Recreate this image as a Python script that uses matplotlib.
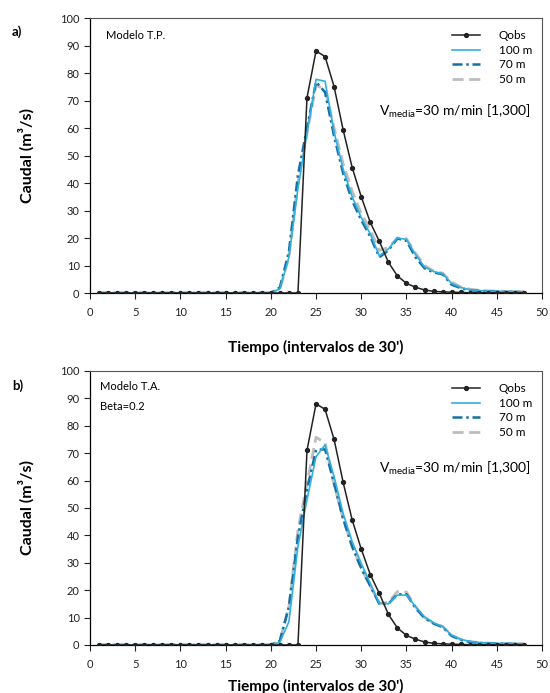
import matplotlib
matplotlib.use('Agg')
import matplotlib.pyplot as plt
from matplotlib.ticker import MultipleLocator

plt.rcParams['font.family'] = ['Lato', 'DejaVu Sans']
plt.rcParams['mathtext.fontset'] = 'custom'
plt.rcParams['mathtext.rm'] = 'Lato'

t = list(range(1, 49))
zeros20 = [0] * 20

q_obs = [0] * 23 + [71, 88, 86, 75, 59.3, 45.6, 35, 25.7, 18.8, 11.2, 6.2, 3.5,
                    2.1, 1.1, 0.6, 0.4, 0.3, 0.2, 0.1, 0.1, 0.1, 0.1, 0.1, 0.1, 0.1]

# a) Modelo T.P.
tp_100 = zeros20 + [1.5, 13, 38, 58, 77.7, 77, 58.5, 45, 35, 27.5, 21.5, 13.5, 16, 20,
                    19.5, 14, 9.5, 7.8, 7, 3.5, 2, 1.2, 0.9, 0.7, 0.6, 0.5, 0.5, 0.4]
tp_70 = zeros20 + [2, 15, 43, 60, 76.8, 73, 57, 43.5, 33.5, 26.5, 20.5, 13, 15.5, 19.8,
                   19, 13, 9, 7.5, 6.8, 3, 1.8, 1, 0.8, 0.6, 0.5, 0.4, 0.4, 0.3]
tp_50 = zeros20 + [1.5, 13, 40, 58, 75.6, 74, 60, 47, 37, 29, 23, 15.5, 16.5, 20,
                   19.8, 14.5, 10, 8, 7.2, 4, 2.2, 1.4, 1, 0.8, 0.7, 0.6, 0.5, 0.5]

# b) Modelo T.A.
ta_100 = zeros20 + [1, 8.5, 36, 53, 68.7, 73, 61.4, 48, 37.7, 29.8, 22.5, 15.2, 15, 18.2,
                    18.2, 14, 10.3, 8.1, 6.7, 3.6, 2.1, 1.3, 0.9, 0.7, 0.6, 0.5, 0.5, 0.4]
ta_70 = zeros20 + [1.5, 14, 39.5, 56.6, 71.2, 71.4, 59, 46, 35.9, 28, 21.5, 15, 15, 18.5,
                   18.5, 13.5, 9.8, 7.8, 6.5, 3.3, 1.9, 1.1, 0.8, 0.6, 0.5, 0.4, 0.4, 0.3]
ta_50 = zeros20 + [1.5, 14, 42, 59, 75.8, 73.8, 58.4, 46, 35.9, 28, 21.5, 15.2, 15.5, 19.5,
                   19.3, 14, 10, 8, 6.8, 3.5, 2, 1.2, 0.9, 0.7, 0.6, 0.5, 0.5, 0.4]

c100 = '#2fb0e0'
c70 = '#1570a3'
c50 = '#bdbdbd'

fig = plt.figure(figsize=(5.5, 6.93), dpi=100)
ax1 = fig.add_axes([0.1636, 0.5772, 0.822, 0.3968])
ax2 = fig.add_axes([0.1636, 0.0693, 0.822, 0.3954])


def draw(ax, s100, s70, s50, notes, vy, xlab_y):
    l50, = ax.plot(t, s50, color=c50, lw=2, ls=(0, (4, 2)), zorder=2)
    l70, = ax.plot(t, s70, color=c70, lw=1.8, ls=(0, (4, 1.5, 1, 1.5)), zorder=3)
    l100, = ax.plot(t, s100, color=c100, lw=1.2, zorder=4)
    lob, = ax.plot(t, q_obs, color='#222222', lw=1.1, marker='o', ms=2.8, zorder=5)
    ax.set_xlim(0, 50)
    ax.set_ylim(0, 100)
    ax.xaxis.set_major_locator(MultipleLocator(5))
    ax.yaxis.set_major_locator(MultipleLocator(10))
    ax.tick_params(direction='out', length=4, width=0.8, labelsize=8, colors='#222222')
    ax.tick_params(axis='x', pad=6)
    for s in ['top', 'right']:
        ax.spines[s].set_color('#555555')
        ax.spines[s].set_linewidth(0.8)
    for s in ['left', 'bottom']:
        ax.spines[s].set_linewidth(0.9)
    ax.set_ylabel('Caudal (m³/s)', fontsize=11.5, fontweight='bold')
    ax.yaxis.set_label_coords(-0.122, 0.5)
    ax.set_xlabel("Tiempo (intervalos de 30')", fontsize=11, fontweight='bold')
    ax.xaxis.set_label_coords(0.5, xlab_y)
    ax.legend([lob, l100, l70, l50], ['Qobs', '100 m', '70 m', '50 m'],
              loc='upper left', bbox_to_anchor=(0.80, 0.955), frameon=False,
              borderpad=0, borderaxespad=0, handlelength=2.4, handletextpad=1.6,
              labelspacing=0.3, fontsize=8.5)
    ax.text(0.64, vy, r'V$_{\mathrm{media}}$=30 m/min [1,300]', transform=ax.transAxes,
            fontsize=10, va='center', ha='left')
    ys = [0.935] if len(notes) == 1 else [0.942, 0.869]
    xs = 0.035 if len(notes) == 1 else 0.022
    for note, y in zip(notes, ys):
        ax.text(xs, y, note, transform=ax.transAxes, fontsize=8, va='center')


draw(ax1, tp_100, tp_70, tp_50, ['Modelo T.P.'], 0.66, -0.171)
draw(ax2, ta_100, ta_70, ta_50, ['Modelo T.A.', 'Beta=0.2'], 0.646, -0.125)

fig.text(0.022, 0.954, 'a)', fontsize=9.5, fontweight='bold', va='center')
fig.text(0.022, 0.444, 'b)', fontsize=9.5, fontweight='bold', va='center')

fig.savefig('out.png', dpi=100)
